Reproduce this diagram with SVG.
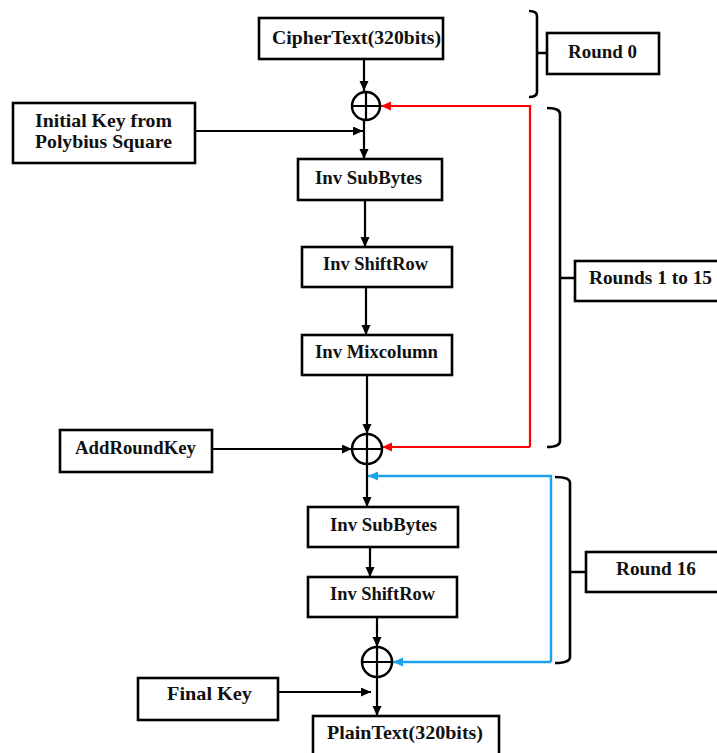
<svg xmlns="http://www.w3.org/2000/svg" width="717" height="753" viewBox="0 0 717 753">
  <style>
    .box { fill: #fff; stroke: #000; stroke-width: 2.6; }
    .lbl { font-family: "Liberation Serif", "Times New Roman", serif; font-weight: bold; font-size: 19px; fill: #111; }
    .wire { fill: none; stroke: #000; stroke-width: 2.2; }
    .red { fill: none; stroke: #f00; stroke-width: 2.2; }
    .blue { fill: none; stroke: #1aa3e8; stroke-width: 2.4; }
    .brace { fill: none; stroke: #000; stroke-width: 2.6; stroke-linejoin: round; }
    .xor { fill: #fff; stroke: #000; stroke-width: 2.5; }
  </style>
  <defs>
    <marker id="ah" markerUnits="userSpaceOnUse" markerWidth="11" markerHeight="10" refX="10" refY="4.5" orient="auto">
      <path d="M0,0 L10,4.5 L0,9 z" fill="#000"/>
    </marker>
    <marker id="ahRed" markerUnits="userSpaceOnUse" markerWidth="11" markerHeight="10" refX="10" refY="4.5" orient="auto">
      <path d="M0,0 L10,4.5 L0,9 z" fill="#f00"/>
    </marker>
    <marker id="ahBlue" markerUnits="userSpaceOnUse" markerWidth="11" markerHeight="10" refX="10" refY="4.5" orient="auto">
      <path d="M0,0 L10,4.5 L0,9 z" fill="#1aa3e8"/>
    </marker>
  </defs>
  <rect width="717" height="753" fill="#fff"/>

  <!-- connectors -->
  <g id="connectors">
    <line class="wire" x1="364" y1="59" x2="364" y2="91" marker-end="url(#ah)"/>
    <line class="wire" x1="364" y1="120" x2="364" y2="159" marker-end="url(#ah)"/>
    <line class="wire" x1="195" y1="131" x2="363" y2="131" marker-end="url(#ah)"/>
    <line class="wire" x1="365" y1="200" x2="365" y2="247" marker-end="url(#ah)"/>
    <line class="wire" x1="366" y1="287" x2="366" y2="335" marker-end="url(#ah)"/>
    <line class="wire" x1="367" y1="375" x2="367" y2="434" marker-end="url(#ah)"/>
    <line class="wire" x1="212" y1="449" x2="352" y2="449" marker-end="url(#ah)"/>
    <line class="wire" x1="367" y1="464" x2="367" y2="507" marker-end="url(#ah)"/>
    <line class="wire" x1="370" y1="547" x2="370" y2="577" marker-end="url(#ah)"/>
    <line class="wire" x1="377" y1="617" x2="377" y2="647" marker-end="url(#ah)"/>
    <line class="wire" x1="377" y1="677" x2="377" y2="716" marker-end="url(#ah)"/>
    <line class="wire" x1="278" y1="692" x2="371" y2="692" marker-end="url(#ah)"/>
    <!-- round key feedback loops -->
    <path class="red" d="M530,447 V106 H381" marker-end="url(#ahRed)"/>
    <path class="red" d="M530,447 H382" marker-end="url(#ahRed)"/>
    <path class="blue" d="M551,662 V476 H368" marker-end="url(#ahBlue)"/>
    <path class="blue" d="M551,662 H393" marker-end="url(#ahBlue)"/>
  </g>

  <!-- xor junctions -->
  <g id="xor1">
    <circle class="xor" cx="366" cy="106" r="14"/>
    <path class="wire" d="M352,106 H380 M366,92 V120"/>
  </g>
  <g id="xor2">
    <circle class="xor" cx="367" cy="449" r="15"/>
    <path class="wire" d="M352,449 H382 M367,434 V464"/>
  </g>
  <g id="xor3">
    <circle class="xor" cx="377" cy="662" r="15"/>
    <path class="wire" d="M362,662 H392 M377,647 V677"/>
  </g>

  <!-- process blocks -->
  <g id="ciphertext">
    <rect class="box" x="259" y="18" width="184" height="41"/>
    <text class="lbl" x="272" y="44" textLength="169" lengthAdjust="spacingAndGlyphs">CipherText(320bits)</text>
  </g>
  <g id="initial-key">
    <rect class="box" x="13" y="103" width="182" height="60"/>
    <text class="lbl" x="35" y="127" textLength="137" lengthAdjust="spacingAndGlyphs">Initial Key from</text>
    <text class="lbl" x="35" y="148" textLength="137" lengthAdjust="spacingAndGlyphs">Polybius Square</text>
  </g>
  <g id="invsubbytes-1">
    <rect class="box" x="298" y="159" width="144" height="41"/>
    <text class="lbl" x="315" y="184" textLength="107" lengthAdjust="spacingAndGlyphs">Inv SubBytes</text>
  </g>
  <g id="invshiftrow-1">
    <rect class="box" x="302" y="247" width="150" height="40"/>
    <text class="lbl" x="323" y="270" textLength="105" lengthAdjust="spacingAndGlyphs">Inv ShiftRow</text>
  </g>
  <g id="invmixcolumn">
    <rect class="box" x="302" y="335" width="150" height="40"/>
    <text class="lbl" x="315" y="358" textLength="123" lengthAdjust="spacingAndGlyphs">Inv Mixcolumn</text>
  </g>
  <g id="addroundkey">
    <rect class="box" x="60" y="430" width="152" height="42"/>
    <text class="lbl" x="75" y="454" textLength="121" lengthAdjust="spacingAndGlyphs">AddRoundKey</text>
  </g>
  <g id="invsubbytes-2">
    <rect class="box" x="308" y="507" width="150" height="40"/>
    <text class="lbl" x="330" y="531" textLength="107" lengthAdjust="spacingAndGlyphs">Inv SubBytes</text>
  </g>
  <g id="invshiftrow-2">
    <rect class="box" x="308" y="577" width="149" height="40"/>
    <text class="lbl" x="330" y="600" textLength="105" lengthAdjust="spacingAndGlyphs">Inv ShiftRow</text>
  </g>
  <g id="final-key">
    <rect class="box" x="138" y="678" width="140" height="42"/>
    <text class="lbl" x="167" y="700" textLength="85" lengthAdjust="spacingAndGlyphs">Final Key</text>
  </g>
  <g id="plaintext">
    <rect class="box" x="313" y="716" width="186" height="45"/>
    <text class="lbl" x="327" y="739" textLength="156" lengthAdjust="spacingAndGlyphs">PlainText(320bits)</text>
  </g>

  <!-- round annotations -->
  <g id="round-0">
    <path class="brace" d="M529,11 Q537,11 537,16 V92 Q537,97 529,97 M537,53 H547"/>
    <rect class="box" x="547" y="33" width="112" height="41"/>
    <text class="lbl" x="568" y="58" textLength="69" lengthAdjust="spacingAndGlyphs">Round 0</text>
  </g>
  <g id="rounds-1-15">
    <path class="brace" d="M547,108 Q560,108 560,114 V441 Q560,447 547,447 M560,278 H575"/>
    <rect class="box" x="575" y="261" width="150" height="40"/>
    <text class="lbl" x="589" y="284" textLength="123" lengthAdjust="spacingAndGlyphs">Rounds 1 to 15</text>
  </g>
  <g id="round-16">
    <path class="brace" d="M555,477 Q570,477 570,483 V657 Q570,663 555,663 M570,572 H586"/>
    <rect class="box" x="586" y="552" width="140" height="40"/>
    <text class="lbl" x="616" y="575" textLength="80" lengthAdjust="spacingAndGlyphs">Round 16</text>
  </g>
</svg>
